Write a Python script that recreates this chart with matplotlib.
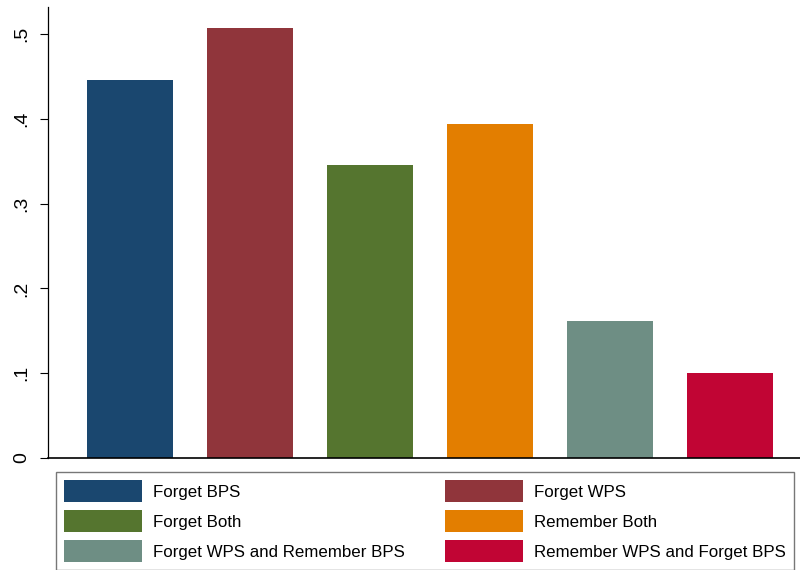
import matplotlib.pyplot as plt
from matplotlib.patches import Patch
import numpy as np

plt.rcParams['font.family'] = ['Liberation Sans', 'DejaVu Sans']

# Group labels and shares
labels = ['Forget BPS', 'Forget WPS', 'Forget Both', 'Remember Both',
          'Forget WPS and Remember BPS', 'Remember WPS and Forget BPS']
values = [0.446, 0.507, 0.346, 0.394, 0.162, 0.100]
colors = ['#1a476f', '#90353b', '#55752f', '#e37e00', '#6e8e84', '#c10534']
yticks = [0, 0.1, 0.2, 0.3, 0.4, 0.5]
ytick_labels = ['0', '.1', '.2', '.3', '.4', '.5']

fig = plt.figure(figsize=(8, 5.7), dpi=100)
ax = fig.add_axes([48 / 800, 1 - 458 / 570, 752 / 800, 451 / 570])

x = np.arange(len(values))
ax.bar(x, values, width=0.717, color=colors)

ax.set_xlim(-0.683, 5.583)
ax.set_ylim(0, 0.5 * 451 / 424)
ax.set_xticks([])
ax.set_yticks(yticks)
ax.set_yticklabels(ytick_labels, rotation=90, va='center', fontsize=14)
ax.tick_params(axis='y', length=6, width=0.8, pad=7)
for s in ['top', 'right']:
    ax.spines[s].set_visible(False)
ax.spines['left'].set_linewidth(0.9)
ax.spines['bottom'].set_linewidth(1.2)

# legend, filled row by row like Stata
handles = [Patch(facecolor=c, edgecolor='none') for c in colors]
order = [0, 2, 4, 1, 3, 5]
fs = 12.2
px = fs * 100 / 72
leg = fig.legend([handles[i] for i in order], [labels[i] for i in order],
                 ncol=2, loc='upper left',
                 bbox_to_anchor=(56 / 800, 1 - 472 / 570),
                 fontsize=fs, handlelength=78 / px, handleheight=1.626,
                 labelspacing=8 / px, handletextpad=11 / px,
                 borderpad=8 / px, borderaxespad=0, columnspacing=40 / px,
                 fancybox=False, edgecolor='#777777', framealpha=1)
leg.get_frame().set_linewidth(1.0)

plt.savefig('out.png', dpi=100)
